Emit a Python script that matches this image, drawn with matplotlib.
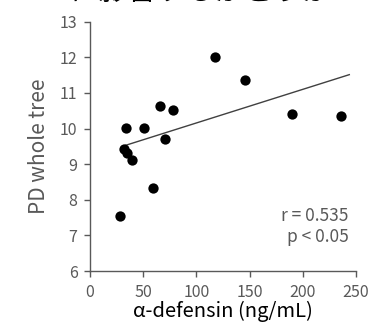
import numpy as np
import matplotlib
matplotlib.use("Agg")
import matplotlib.pyplot as plt

plt.rcParams['font.family'] = ['Noto Sans CJK JP', 'DejaVu Sans']

# --- data ---
defensin = [28.3, 33.6, 32.1, 34.6, 39.0, 50.3, 59.4, 66.0, 70.4, 78.3,
            117.6, 145.3, 190.0, 235.5]
pd_tree = [7.55, 10.02, 9.42, 9.32, 9.11, 10.02, 8.34, 10.63, 9.70, 10.52,
           12.0, 11.35, 10.40, 10.35]

# trend line as drawn in the figure
trend_range = [33.6, 243.7]
trend_slope = 0.00943
trend_intercept = 9.213

x_ticks = [0, 50, 100, 150, 200, 250]
y_ticks = [6, 7, 8, 9, 10, 11, 12, 13]

stats_text = "r = 0.535\np < 0.05"
caption = "に影響するかどうか"

grey = '#595959'

fig = plt.figure(figsize=(3.72, 3.27), dpi=100)
ax = fig.add_axes([0.242, 0.171, 0.715, 0.763])

ax.scatter(defensin, pd_tree, s=55, color='black', zorder=3, linewidths=0)

tx = np.array(trend_range)
ax.plot(tx, trend_slope * tx + trend_intercept, color='#404040', linewidth=1.0)

ax.set_xlim(0, 250)
ax.set_ylim(6, 13)
ax.set_xticks(x_ticks)
ax.set_yticks(y_ticks)

for s in ['top', 'right']:
    ax.spines[s].set_visible(False)
for s in ['left', 'bottom']:
    ax.spines[s].set_color(grey)
    ax.spines[s].set_linewidth(1.0)
ax.tick_params(colors=grey, labelsize=11.5, length=4, width=1.0, direction='out')
ax.tick_params(axis='x', pad=5)
ax.tick_params(axis='y', pad=5)

ax.set_ylabel('PD whole tree', fontsize=15, color=grey, labelpad=7)
ax.set_xlabel('α-defensin (ng/mL)', fontsize=14.5, color='black', labelpad=0)

ax.text(243, 7.25, stats_text, ha='right', va='center', fontsize=12.5,
        color=grey, linespacing=1.2)

# caption cut off at the top edge of the image, as in the reference
fig.text(0.54, 1.0, caption, ha='center', va='baseline', fontsize=21,
         color='black')

fig.savefig('out.png', dpi=100)
